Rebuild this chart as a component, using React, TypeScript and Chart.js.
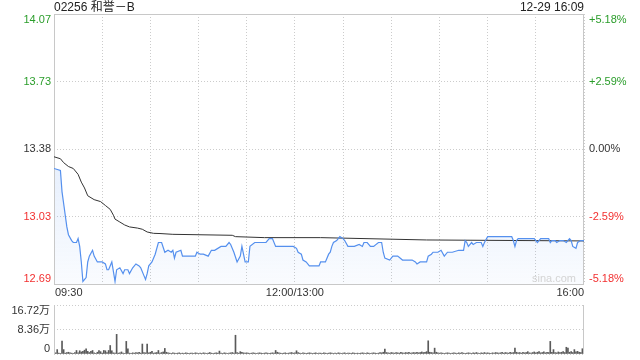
import React, { useEffect, useRef } from 'react';
import { Chart, registerables } from 'chart.js';

Chart.register(...registerables);

const TITLE = '02256 和誉－B';
const TIMESTAMP = '12-29 16:09';
const WATERMARK = 'sina.com';

const PREV_CLOSE = 13.38;
const PCT_TICKS = [0.0518, 0.0259, 0, -0.0259, -0.0518];
const PRICE_LABELS = ['14.07', '13.73', '13.38', '13.03', '12.69'];
const PCT_LABELS = ['+5.18%', '+2.59%', '0.00%', '-2.59%', '-5.18%'];

const TOTAL_MINUTES = 330;
const GRID_STEP = 30;
const TIME_TICKS = [0, 150, 330];
const TIME_LABELS = ['09:30', '12:00/13:00', '16:00'];

// minute index since 09:30 (afternoon continues at 150 = 13:00)
const PRICE_MIN = [
  0, 4, 5, 6, 8, 9, 11, 12, 14, 15, 16, 17, 18, 20, 21, 22, 24, 25, 27, 30,
  32, 33, 34, 36, 37, 38, 39, 41, 43, 44, 46, 47, 49, 51, 53, 54, 56, 57, 58, 59,
  61, 63, 65, 67, 69, 71, 73, 74, 75, 76, 79, 80, 88, 89, 91, 93, 96, 98, 100, 104,
  107, 109, 110, 112, 114, 116, 117, 119, 121, 122, 125, 129, 132, 134, 136, 138, 149, 151, 152, 154,
  155, 157, 159, 165, 166, 169, 171, 172, 173, 174, 176, 178, 180, 181, 183, 187, 190, 192, 193, 195,
  197, 199, 202, 204, 205, 206, 209, 211, 214, 217, 223, 225, 226, 228, 232, 233, 235, 236, 239, 241,
  243, 245, 248, 252, 255, 256, 257, 258, 260, 261, 263, 266, 267, 268, 270, 272, 285, 286, 287, 288,
  289, 299, 301, 303, 308, 309, 310, 312, 313, 315, 317, 319, 321, 322, 323, 325, 326, 328, 330,
];
const PRICE_VAL = [
  13.28, 13.27, 13.16, 13.10, 12.98, 12.94, 12.91, 12.90, 12.90, 12.92, 12.88, 12.80, 12.70, 12.72, 12.80, 12.83, 12.86, 12.83, 12.80, 12.80,
  12.79, 12.76, 12.76, 12.80, 12.75, 12.70, 12.76, 12.77, 12.74, 12.76, 12.76, 12.74, 12.77, 12.79, 12.78, 12.77, 12.73, 12.71, 12.74, 12.78,
  12.80, 12.84, 12.90, 12.90, 12.85, 12.86, 12.85, 12.86, 12.82, 12.85, 12.86, 12.83, 12.83, 12.85, 12.84, 12.84, 12.83, 12.86, 12.86, 12.88,
  12.88, 12.90, 12.89, 12.85, 12.80, 12.83, 12.88, 12.80, 12.80, 12.88, 12.90, 12.90, 12.90, 12.92, 12.92, 12.88, 12.88, 12.87, 12.85, 12.84,
  12.81, 12.80, 12.78, 12.78, 12.80, 12.80, 12.84, 12.85, 12.88, 12.90, 12.91, 12.93, 12.92, 12.91, 12.88, 12.88, 12.89, 12.88, 12.90, 12.90,
  12.88, 12.88, 12.90, 12.90, 12.85, 12.82, 12.81, 12.83, 12.83, 12.81, 12.81, 12.80, 12.79, 12.80, 12.80, 12.83, 12.84, 12.85, 12.85, 12.86,
  12.83, 12.85, 12.85, 12.86, 12.86, 12.91, 12.90, 12.88, 12.90, 12.89, 12.90, 12.90, 12.88, 12.90, 12.93, 12.93, 12.93, 12.91, 12.88, 12.91,
  12.92, 12.92, 12.90, 12.92, 12.92, 12.90, 12.91, 12.91, 12.90, 12.91, 12.91, 12.90, 12.92, 12.91, 12.88, 12.87, 12.90, 12.91, 12.91,
];

const AVG_MIN = [0, 4, 6, 9, 12, 15, 17, 19, 21, 25, 29, 32, 35, 37, 38, 41, 44, 47, 52, 55, 58, 62, 66, 74, 111, 113, 131, 166, 232, 330];
const AVG_VAL = [
  13.34, 13.33, 13.31, 13.29, 13.28, 13.25, 13.21, 13.18, 13.14, 13.12, 13.11, 13.09, 13.07, 13.04, 13.02,
  13.005, 12.99, 12.98, 12.974, 12.968, 12.954, 12.947, 12.946, 12.942, 12.937, 12.93, 12.925, 12.925, 12.913, 12.908,
];

// volume per minute, in 万 shares
const VOLUME = [
  16.72, 0.4, 1.5, 0.3, 0.2, 4.4, 1.5, 0.3, 0.5, 0.6,
  0.4, 0.3, 0.2, 0.5, 1.2, 0.4, 1.1, 0.7, 0.9, 1.3,
  1.8, 0.9, 0.5, 0.9, 1.2, 0.4, 0.2, 0.6, 1.2, 0.8,
  0.3, 1.2, 1.1, 0.5, 1.2, 2.9, 1.1, 0.4, 0.3, 6.7,
  0.3, 0.4, 0.7, 0.3, 0.2, 4.3, 1.8, 0.3, 0.2, 0.4,
  0.3, 0.5, 0.4, 0.6, 0.3, 3.4, 0.5, 0.4, 3.4, 0.4,
  0.6, 0.9, 0.3, 0.4, 0.5, 1.2, 0.3, 0.5, 0.7, 1.9,
  0.6, 0.4, 0.3, 0.2, 0.4, 0.3, 0.2, 0.3, 0.4, 0.2,
  0.3, 0.2, 0.4, 0.3, 0.2, 0.3, 0.3, 0.2, 0.4, 0.3,
  0.2, 0.3, 0.2, 0.4, 0.3, 0.2, 0.3, 0.5, 0.3, 0.2,
  0.3, 0.4, 0.3, 1.0, 0.3, 0.2, 0.4, 0.3, 0.2, 0.3,
  0.4, 0.5, 0.3, 6.4, 0.5, 0.3, 0.8, 0.6, 0.4, 0.3,
  0.4, 0.3, 0.2, 0.3, 0.4, 0.3, 0.2, 0.3, 0.4, 0.3,
  0.2, 0.3, 0.4, 0.3, 0.2, 0.3, 0.4, 0.3, 1.2, 0.6,
  0.4, 0.3, 0.2, 0.3, 0.4, 0.2, 0.3, 0.4, 0.5, 0.3,
  0.4, 1.1, 0.5, 0.3, 0.2, 0.4, 0.3, 0.2, 0.3, 0.4,
  0.3, 0.2, 0.3, 0.4, 0.2, 0.3, 0.3, 0.2, 0.4, 0.3,
  0.2, 0.3, 0.4, 0.3, 0.2, 0.3, 0.2, 0.4, 0.3, 0.2,
  0.3, 0.4, 0.2, 0.3, 0.3, 0.2, 0.4, 0.3, 0.2, 0.3,
  0.2, 0.3, 0.4, 0.3, 0.2, 0.4, 0.3, 0.2, 0.3, 0.4,
  0.3, 0.2, 0.3, 0.5, 0.4, 0.6, 1.7, 0.5, 0.4, 0.3,
  0.5, 0.4, 0.3, 0.5, 0.4, 0.3, 0.6, 0.4, 0.3, 0.5,
  0.4, 0.6, 0.3, 0.4, 0.5, 0.4, 0.6, 0.4, 0.5, 0.7,
  0.5, 0.6, 0.8, 4.5, 0.6, 0.5, 0.4, 2.0, 0.6, 0.4,
  0.3, 0.4, 0.3, 0.2, 0.3, 0.4, 0.3, 0.2, 0.3, 0.4,
  0.3, 0.2, 0.4, 0.3, 0.5, 0.3, 0.2, 0.3, 0.4, 0.3,
  0.2, 0.4, 0.3, 0.5, 0.3, 0.2, 0.4, 0.3, 0.5, 0.3,
  0.4, 0.3, 0.2, 0.4, 0.3, 0.5, 0.4, 0.3, 0.4, 0.6,
  0.3, 0.5, 0.4, 0.3, 0.6, 0.4, 0.5, 2.0, 0.6, 0.4,
  0.5, 0.3, 0.6, 0.4, 0.5, 0.8, 0.4, 0.3, 0.5, 0.7,
  0.4, 0.6, 0.8, 0.4, 0.5, 0.7, 0.4, 0.6, 0.5, 4.3,
  0.6, 1.5, 0.5, 0.4, 0.7, 0.5, 0.6, 0.8, 0.5, 2.3,
  2.0, 0.6, 0.8, 0.5, 1.5, 0.7, 0.9, 0.6, 0.5, 1.8,
  0.7,
];
const VOL_TICKS = [16.72, 8.36, 0];
const VOL_LABELS = ['16.72万', '8.36万', '0'];

const FONT = '"Liberation Sans", Arial, "Noto Sans CJK SC", sans-serif';
const UP = '#2a9d2a';
const DOWN = '#f23030';
const FLAT = '#333333';
const BORDER = '#c8c8c8';
const GRID = '#cccccc';
const LINE = '#5590ee';

function labelColor(p: number) {
  return p > 0 ? UP : p < 0 ? DOWN : FLAT;
}

function baselineFor(i: number, n: number): CanvasTextBaseline {
  return i === 0 ? 'top' : i === n - 1 ? 'bottom' : 'middle';
}

export default function App() {
  const priceRef = useRef<HTMLCanvasElement>(null);
  const volRef = useRef<HTMLCanvasElement>(null);

  useEffect(() => {
    document.body.style.margin = '0';
    const pMin = PREV_CLOSE * (1 + PCT_TICKS[PCT_TICKS.length - 1]);
    const pMax = PREV_CLOSE * (1 + PCT_TICKS[0]);

    const priceLabels = {
      id: 'priceLabels',
      beforeDatasetsDraw(chart: any) {
        const { ctx, chartArea: a } = chart;
        ctx.save();
        ctx.strokeStyle = BORDER;
        ctx.lineWidth = 1;
        ctx.strokeRect(a.left + 0.5, a.top + 0.5, a.right - a.left - 1, a.bottom - a.top);
        ctx.restore();
      },
      afterDraw(chart: any) {
        const { ctx, chartArea: a, scales } = chart;
        const y = scales.y;
        const x = scales.x;
        ctx.save();
        ctx.font = '11px ' + FONT;
        PCT_TICKS.forEach((p, i) => {
          const py = y.getPixelForValue(PREV_CLOSE * (1 + p));
          ctx.textBaseline = baselineFor(i, PCT_TICKS.length);
          ctx.fillStyle = labelColor(p);
          ctx.textAlign = 'right';
          ctx.fillText(PRICE_LABELS[i], a.left - 3, py);
          ctx.textAlign = 'left';
          ctx.fillText(PCT_LABELS[i], a.right + 5, py);
        });
        ctx.fillStyle = FLAT;
        ctx.textBaseline = 'top';
        TIME_TICKS.forEach((t, i) => {
          const px = x.getPixelForValue(t);
          ctx.textAlign = i === 0 ? 'left' : i === TIME_TICKS.length - 1 ? 'right' : 'center';
          ctx.fillText(TIME_LABELS[i], px + (i === 0 ? 1 : 0), a.bottom + 3);
        });
        ctx.restore();
      },
    };

    const priceChart = new Chart(priceRef.current!, {
      type: 'line',
      data: {
        datasets: [
          {
            label: 'price',
            data: PRICE_MIN.map((m, i) => ({ x: m, y: PRICE_VAL[i] })),
            borderColor: LINE,
            borderWidth: 1.2,
            pointRadius: 0,
            tension: 0,
            fill: 'start',
            backgroundColor: (c: any) => {
              const area = c.chart.chartArea;
              if (!area) return 'rgba(85,144,238,0.08)';
              const g = c.chart.ctx.createLinearGradient(0, area.top + 130, 0, area.bottom);
              g.addColorStop(0, 'rgba(85,144,238,0.16)');
              g.addColorStop(1, 'rgba(85,144,238,0.03)');
              return g;
            },
          },
          {
            label: 'avg',
            data: AVG_MIN.map((m, i) => ({ x: m, y: AVG_VAL[i] })),
            borderColor: '#333333',
            borderWidth: 1,
            pointRadius: 0,
            tension: 0,
            fill: false,
          },
        ],
      },
      options: {
        animation: false,
        responsive: false,
        events: [],
        layout: { padding: { left: 54, right: 56, top: 14, bottom: 16 } },
        plugins: {
          legend: { display: false },
          tooltip: { enabled: false },
          filler: { drawTime: 'beforeDatasetsDraw' },
        },
        scales: {
          x: {
            type: 'linear',
            min: 0,
            max: TOTAL_MINUTES,
            ticks: { display: false, stepSize: GRID_STEP },
            grid: { color: GRID, drawTicks: false, lineWidth: 1 },
            border: { display: false, dash: [1, 2] },
            afterFit: (s: any) => { s.height = 0; },
          },
          y: {
            type: 'linear',
            min: pMin,
            max: pMax,
            afterBuildTicks: (s: any) => {
              s.ticks = PCT_TICKS.map((p) => ({ value: PREV_CLOSE * (1 + p) }));
            },
            ticks: { display: false },
            grid: { color: GRID, drawTicks: false, lineWidth: 1 },
            border: { display: false, dash: [1, 2] },
            afterFit: (s: any) => { s.width = 0; },
          },
        },
      },
      plugins: [priceLabels],
    });

    const volLabels = {
      id: 'volLabels',
      afterDraw(chart: any) {
        const { ctx, chartArea: a, scales } = chart;
        ctx.save();
        ctx.strokeStyle = BORDER;
        ctx.lineWidth = 1;
        ctx.beginPath();
        ctx.moveTo(a.left + 0.5, a.top);
        ctx.lineTo(a.left + 0.5, a.bottom);
        ctx.moveTo(a.right - 0.5, a.top);
        ctx.lineTo(a.right - 0.5, a.bottom);
        ctx.stroke();
        ctx.font = '11px ' + FONT;
        ctx.fillStyle = FLAT;
        ctx.textAlign = 'right';
        VOL_TICKS.forEach((v, i) => {
          ctx.textBaseline = baselineFor(i, VOL_TICKS.length);
          ctx.fillText(VOL_LABELS[i], a.left - 4, scales.y.getPixelForValue(v));
        });
        ctx.restore();
      },
    };

    const volChart = new Chart(volRef.current!, {
      type: 'bar',
      data: {
        datasets: [
          {
            label: 'volume',
            data: VOLUME.map((v, i) => ({ x: i, y: v })),
            backgroundColor: '#5a5a5a',
            barThickness: 1,
            borderWidth: 0,
          },
        ],
      },
      options: {
        animation: false,
        responsive: false,
        events: [],
        layout: { padding: { left: 54, right: 56, top: 5, bottom: 6 } },
        plugins: { legend: { display: false }, tooltip: { enabled: false } },
        scales: {
          x: {
            type: 'linear',
            min: 0,
            max: TOTAL_MINUTES,
            offset: false,
            ticks: { display: false },
            grid: { display: false },
            border: { display: false },
            afterFit: (s: any) => { s.height = 0; },
          },
          y: {
            type: 'linear',
            min: 0,
            max: VOL_TICKS[0],
            afterBuildTicks: (s: any) => {
              s.ticks = VOL_TICKS.map((v) => ({ value: v }));
            },
            ticks: { display: false },
            grid: { color: GRID, drawTicks: false, lineWidth: 1 },
            border: { display: false, dash: [1, 2] },
            afterFit: (s: any) => { s.width = 0; },
          },
        },
      },
      plugins: [volLabels],
    });

    return () => {
      priceChart.destroy();
      volChart.destroy();
    };
  }, []);

  return (
    <div style={{ position: 'relative', width: 640, height: 360, fontFamily: FONT, overflow: 'hidden', background: '#fff' }}>
      <canvas ref={priceRef} width={640} height={300} style={{ position: 'absolute', left: 0, top: 0, display: 'block' }} />
      <canvas ref={volRef} width={640} height={60} style={{ position: 'absolute', left: 0, top: 300, display: 'block' }} />
      <div style={{ position: 'absolute', left: 54, top: 0, fontSize: 12, lineHeight: '14px', color: '#222', whiteSpace: 'nowrap' }}>{TITLE}</div>
      <div style={{ position: 'absolute', right: 56, top: 0, fontSize: 12, lineHeight: '14px', color: '#222', whiteSpace: 'nowrap' }}>{TIMESTAMP}</div>
      <div style={{ position: 'absolute', left: 532, top: 273, fontSize: 11, lineHeight: '11px', color: '#d4d4d4', whiteSpace: 'nowrap' }}>{WATERMARK}</div>
    </div>
  );
}
